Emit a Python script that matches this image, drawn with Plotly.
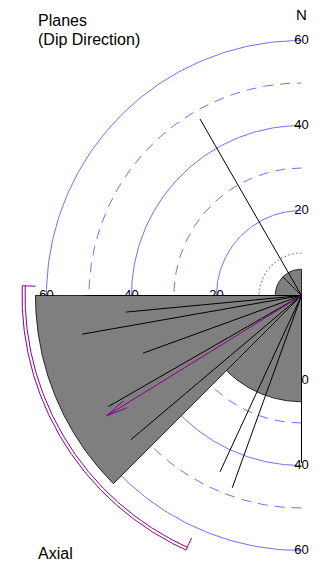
import numpy as np
import plotly.graph_objects as go

# ---- data -------------------------------------------------------------
grid_solid = [20, 40, 60]
grid_dashed = [30, 50]
grid_dotted = [10]
tick_values = [20, 40, 60]

# rose petals (azimuth span in degrees, radius in plot units)
petal_start = [180, 225, 270, 315]
petal_end = [225, 270, 315, 360]
petal_radius = [25.0, 62.6, 6.2, 6.2]

# individual planes: dip direction and plotted length
plane_azimuth = [330.1, 270.0, 264.6, 260.0, 250.0, 240.1, 229.8, 204.8, 199.8, 180.0]
plane_length = [47.9, 50.8, 41.5, 52.4, 39.7, 52.4, 52.6, 45.7, 48.1, 39.4]

# mean direction and its confidence arc
mean_azimuth = 238.3
mean_length = 53.9
conf_start = 272.0
conf_end = 204.4

# ---- helpers ----------------------------------------------------------
def pol2xy(r, az):
    a = np.radians(np.asarray(az, dtype=float))
    r = np.asarray(r, dtype=float)
    return r * np.sin(a), r * np.cos(a)

def arc(r, a0, a1, n=200):
    az = np.linspace(a0, a1, n)
    return pol2xy(np.full_like(az, r), az)

SCALE = 4.25          # pixels per unit
CX, CY = 301.5, 295.5  # pole position in pixels
W, H = 322, 567

BLUE = "#6f6fff"
GRAY = "#7f7f7f"
PURPLE = "#8b008b"
FONT = "Liberation Sans, Arial, Helvetica, sans-serif"

fig = go.Figure()

# grid circles over the western half
for r in grid_solid:
    x, y = arc(r, 180, 360)
    fig.add_trace(go.Scatter(x=x, y=y, mode="lines",
                             line=dict(color=BLUE, width=1)))
for r in grid_dashed:
    x, y = arc(r, 180, 360)
    fig.add_trace(go.Scatter(x=x, y=y, mode="lines",
                             line=dict(color=BLUE, width=1, dash="10px,7px")))
for r in grid_dotted:
    x, y = arc(r, 180, 360)
    fig.add_trace(go.Scatter(x=x, y=y, mode="lines",
                             line=dict(color=BLUE, width=1.2, dash="1.5px,2.5px")))

# ring labels on the N, W and S spokes
for az in (360, 270, 180):
    tx, ty = pol2xy(tick_values, [az] * len(tick_values))
    fig.add_trace(go.Scatter(x=tx, y=ty, mode="text",
                             text=[str(v) for v in tick_values],
                             textposition="middle center",
                             textfont=dict(family=FONT, size=13, color="black")))

# rose petals
for a0, a1, r in zip(petal_start, petal_end, petal_radius):
    ax, ay = arc(r, a0, a1, 120)
    x = np.concatenate([[0.0], ax, [0.0]])
    y = np.concatenate([[0.0], ay, [0.0]])
    fig.add_trace(go.Scatter(x=x, y=y, mode="lines", fill="toself",
                             fillcolor=GRAY,
                             line=dict(color="black", width=0.8)))

# planes as spokes from the pole
for az, ln in zip(plane_azimuth, plane_length):
    ex, ey = pol2xy(ln, az)
    fig.add_trace(go.Scatter(x=[0.0, float(ex)], y=[0.0, float(ey)], mode="lines",
                             line=dict(color="black", width=1)))

# mean direction arrow
tip_x, tip_y = pol2xy(mean_length, mean_azimuth)
tip_x, tip_y = float(tip_x), float(tip_y)
back = np.radians(mean_azimuth + 180)
head_len = 5.2
hx, hy = [], []
for da in (-10, 10):
    b = back + np.radians(da)
    hx += [tip_x + head_len * np.sin(b), tip_x, None]
    hy += [tip_y + head_len * np.cos(b), tip_y, None]
fig.add_trace(go.Scatter(x=[0.0, tip_x] + [None] + hx,
                         y=[0.0, tip_y] + [None] + hy,
                         mode="lines", line=dict(color=PURPLE, width=1)))

# confidence arc (double line with end ticks)
for r in (65.05, 65.76):
    x, y = arc(r, conf_start, conf_end)
    fig.add_trace(go.Scatter(x=x, y=y, mode="lines",
                             line=dict(color=PURPLE, width=1)))
for az in (conf_start, conf_end):
    kx, ky = pol2xy([65.76, 62.6], [az, az])
    fig.add_trace(go.Scatter(x=kx, y=ky, mode="lines",
                             line=dict(color=PURPLE, width=1)))

# titles
annotations = [
    dict(text="N", x=301.5, y=14, size=15, xanchor="center"),
    dict(text="Planes", x=36, y=20, size=16, xanchor="left"),
    dict(text="(Dip Direction)", x=36, y=39, size=16, xanchor="left"),
    dict(text="Axial", x=36, y=553, size=16, xanchor="left"),
]
for a in annotations:
    fig.add_annotation(text=a["text"], xref="paper", yref="paper",
                       x=a["x"] / W, y=1 - a["y"] / H,
                       xanchor=a["xanchor"], yanchor="middle",
                       showarrow=False,
                       font=dict(family=FONT, size=a["size"], color="black"))

fig.update_layout(
    width=W, height=H,
    margin=dict(l=0, r=0, t=0, b=0),
    paper_bgcolor="white", plot_bgcolor="white",
    showlegend=False,
    xaxis=dict(range=[-CX / SCALE, (W - CX) / SCALE], visible=False,
               showgrid=False, zeroline=False, fixedrange=True),
    yaxis=dict(range=[(CY - H) / SCALE, CY / SCALE], visible=False,
               showgrid=False, zeroline=False, fixedrange=True),
)

fig.write_html("out.html", config={"displayModeBar": False})
